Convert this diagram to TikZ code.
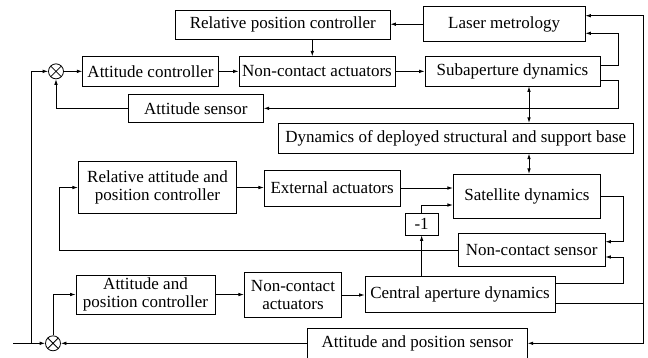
\documentclass[tikz,border=0pt]{standalone}
\usepackage{fontspec}
\setmainfont{Liberation Serif}
\usetikzlibrary{arrows.meta,calc}
\tikzset{
  box/.style={draw, line width=0.8pt, inner sep=0pt, align=center, font=\fontsize{17}{18.5}\selectfont},
  arr/.style={line width=0.8pt, -{Latex[length=5.5pt,width=3.6pt]}},
  arrtwo/.style={line width=0.8pt, {Latex[length=5.5pt,width=3.6pt]}-{Latex[length=5.5pt,width=3.6pt]}},
  plain/.style={line width=0.8pt},
  sumnode/.style={circle, draw, line width=0.8pt, minimum size=15pt, inner sep=0pt,
    path picture={\draw[line width=0.8pt] (path picture bounding box.north west) -- (path picture bounding box.south east)
      (path picture bounding box.north east) -- (path picture bounding box.south west);}}
}
\begin{document}
\begin{tikzpicture}[x=1pt,y=-1pt]
\useasboundingbox (0,0) rectangle (648,357);
% boxes
\node[box, minimum width=214.3, minimum height=29] (rpc) at (282.85,24.5) {Relative position controller};
\node[box, minimum width=161.7, minimum height=35] (laser) at (504.15,24.2) {Laser metrology};
\node[box, minimum width=135.6, minimum height=29.3] (attc) at (150.5,71.35) {Attitude controller};
\node[box, minimum width=156, minimum height=29.3] (nca1) at (317,71.35) {Non-contact actuators};
\node[box, minimum width=175, minimum height=29.3] (sub) at (512.5,71.35) {Subaperture dynamics};
\node[box, minimum width=135, minimum height=28.7] (atts) at (195.8,108.35) {Attitude sensor};
\node[box, minimum width=355, minimum height=30] (dyn) at (455.8,138.3) {Dynamics of deployed structural and support base};
\node[box, minimum width=158.4, minimum height=51.6] (rapc) at (157.5,187.5) {Relative attitude and\\position controller};
\node[box, minimum width=135.7, minimum height=36] (ext) at (332.15,188) {External actuators};
\node[box, minimum width=147.4, minimum height=44] (sat) at (527,196.3) {Satellite dynamics};
\node[box, minimum width=33.3, minimum height=21.7] (neg) at (421.65,224.15) {-1};
\node[box, minimum width=146.7, minimum height=33.4] (ncs) at (531.65,250) {Non-contact sensor};
\node[box, minimum width=139, minimum height=39] (apc) at (145.5,294.5) {Attitude and\\position controller};
\node[box, minimum width=97.4, minimum height=44.6] (nca2) at (293,295) {Non-contact\\actuators};
\node[box, minimum width=190, minimum height=36] (cad) at (460,294.7) {Central aperture dynamics};
\node[box, minimum width=220, minimum height=30] (aps) at (417.3,343.3) {Attitude and position sensor};
% summing junctions
\node[sumnode] (sum1) at (56,71.35) {};
\node[sumnode] (sum2) at (53,343.3) {};
% helper coordinates
\coordinate (in) at (13.3,343.3);
\coordinate (split) at (31,343.3);
\coordinate (cx) at (312.3,0);
\coordinate (cd) at (529,0);
% connectors
\draw[arr] (in) -- (sum2.west);
\draw[arr] (split) |- (sum1.west);
\draw[arr] (sum1.east) -- (attc.west);
\draw[arr] (attc.east) -- (nca1.west);
\draw[arr] (nca1.east) -- (sub.west);
\draw[arr] (rpc.south -| cx) -- (nca1.north -| cx);
\draw[arr] (laser.west) -- (laser.west -| rpc.east);
\draw[arr] ([yshift=6.35pt]sub.east) -| (618.5,33.3) -- ([yshift=-9.1pt]laser.east);
\draw[arr] ([yshift=-8.65pt]sub.east) -| (618.5,108.35) -- (atts.east);
\draw[arr] (atts.west) -| (sum1.south);
\draw[arrtwo] (sub.south -| cd) -- (dyn.north -| cd);
\draw[arrtwo] (dyn.south -| cd) -- (sat.north -| cd);
\draw[arr] (rapc.east) -- (rapc.east -| ext.west);
\draw[arr] (ext.east) -- (ext.east -| sat.west);
\draw[arr] (cad.north -| neg.south) -- (neg.south);
\draw[arr] (neg.north) |- ([yshift=-8.7pt]sat.west);
\draw[arr] (sat.east) -| (623.5,241.7) -- ([yshift=8.3pt]ncs.east);
\draw[arr] ([yshift=11.4pt]cad.east) -| (623.5,257) -- ([yshift=-7pt]ncs.east);
\draw[arr] ([yshift=-8.6pt]cad.east) -| (643,15.7) -- ([yshift=8.5pt]laser.east);
\draw[arr] (643,303.3) |- (aps.east);
\draw[arr] (aps.west) -- (sum2.east);
\draw[arr] (sum2.north) |- (apc.west);
\draw[arr] (apc.east) -- (apc.east -| nca2.west);
\draw[arr] (nca2.east) -- (nca2.east -| cad.west);
\draw[arr] (ncs.west) -| ($(rapc.west)+(-19,0)$) -- (rapc.west);
\end{tikzpicture}
\end{document}
